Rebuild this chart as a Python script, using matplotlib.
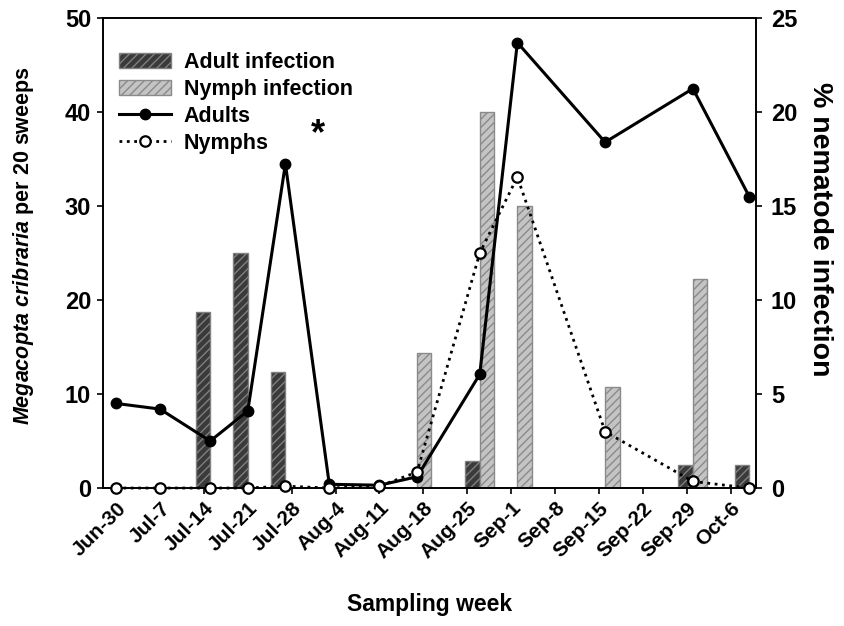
import matplotlib
matplotlib.use("Agg")
import matplotlib.pyplot as plt
from matplotlib.patches import Patch
from matplotlib.lines import Line2D

plt.rcParams['font.family'] = ['Liberation Sans', 'DejaVu Sans']
plt.rcParams['font.weight'] = 'bold'
plt.rcParams['mathtext.fontset'] = 'custom'
plt.rcParams['mathtext.rm'] = 'Liberation Sans:bold'
plt.rcParams['mathtext.it'] = 'Liberation Sans:italic:bold'
plt.rcParams['mathtext.bf'] = 'Liberation Sans:bold'
plt.rcParams['hatch.linewidth'] = 1.0

# ---- data ----
week_labels = ["Jun-30", "Jul-7", "Jul-14", "Jul-21", "Jul-28", "Aug-4", "Aug-11",
               "Aug-18", "Aug-25", "Sep-1", "Sep-8", "Sep-15", "Sep-22", "Sep-29", "Oct-6"]
week_days = [0, 7, 14, 21, 28, 35, 42, 49, 56, 63, 70, 77, 84, 91, 98]

# sampling dates, days after Jun-30
sample_days = [0, 7, 15, 21, 27, 34, 42, 48, 58, 64, 78, 92, 101]
adults = [9.0, 8.4, 5.0, 8.2, 34.5, 0.4, 0.3, 1.2, 12.1, 47.4, 36.8, 42.5, 31.0]
nymphs = [0.0, 0.0, 0.0, 0.0, 0.2, 0.0, 0.2, 1.7, 25.0, 33.1, 6.0, 0.7, 0.0]
adult_infection = [0, 0, 9.35, 12.5, 6.2, 0, 0, 0, 1.45, 0, 0, 1.25, 1.25]
nymph_infection = [0, 0, 0, 0, 0, 0, 0, 7.2, 20.0, 15.0, 5.4, 11.1, 0]

fig = plt.figure(figsize=(8.44, 6.26), dpi=100)
ax = fig.add_axes([0.122, 0.2204, 0.774, 0.7506])
ax2 = ax.twinx()

bar_w = 2.3
ax2.bar(sample_days, adult_infection, width=-bar_w, align='edge',
        color='#3a3a3a', edgecolor='#808080', hatch='////', linewidth=1.0)
ax2.bar(sample_days, nymph_infection, width=bar_w, align='edge',
        color='#c4c4c4', edgecolor='#8a8a8a', hatch='////', linewidth=1.0)

# put lines above bars
ax.set_zorder(ax2.get_zorder() + 1)
ax.patch.set_visible(False)

ax.plot(sample_days, adults, '-', color='black', lw=2.2, marker='o', ms=7.5,
        mfc='black', mec='black', clip_on=False, zorder=3)
ax.plot(sample_days, nymphs, ':', color='black', lw=2.0, marker='o', ms=7.5,
        mfc='white', mec='black', mew=1.6, clip_on=False, zorder=4)

ax.text(32.2, 37.6, '*', fontsize=26, fontweight='bold', ha='center', va='center')

ax.set_xlim(-2.1, 102.1)
ax.set_ylim(0, 50)
ax2.set_ylim(0, 25)
ax.set_yticks([0, 10, 20, 30, 40, 50])
ax2.set_yticks([0, 5, 10, 15, 20, 25])
ax.set_xticks(week_days)
ax.set_xticklabels(week_labels, rotation=45, ha='right', rotation_mode='anchor')

for a in (ax, ax2):
    a.tick_params(axis='both', direction='out', length=4.5, width=1.2, labelsize=17)
    for s in a.spines.values():
        s.set_linewidth(1.2)
ax.tick_params(axis='x', labelsize=15, pad=3)
ax.tick_params(axis='y', pad=4)
ax2.tick_params(axis='y', pad=6)

ax.set_ylabel(r'$\mathit{Megacopta\ cribraria}$ per 20 sweeps', fontsize=15.5,
              fontweight='bold')
ax.yaxis.set_label_coords(-0.103, 0.515)
ax2.set_ylabel('% nematode infection', fontsize=20.5, fontweight='bold',
               rotation=270, va='center')
ax2.yaxis.set_label_coords(1.097, 0.55)
ax.set_xlabel('Sampling week', fontsize=16.5, fontweight='bold', labelpad=22)

handles = [
    Patch(facecolor='#3a3a3a', edgecolor='#808080', hatch='////', label='Adult infection'),
    Patch(facecolor='#c4c4c4', edgecolor='#8a8a8a', hatch='////', label='Nymph infection'),
    Line2D([], [], color='black', lw=2.2, marker='o', ms=7.5, mfc='black', label='Adults'),
    Line2D([], [], color='black', lw=2.0, ls=':', marker='o', ms=7.5, mfc='white',
           mec='black', mew=1.6, label='Nymphs'),
]
leg = ax.legend(handles=handles, loc='upper left', bbox_to_anchor=(0.005, 0.955),
                frameon=False, fontsize=15.5, handlelength=2.4, handleheight=0.7,
                labelspacing=0.27, handletextpad=0.6, borderaxespad=0.2)
for t in leg.get_texts():
    t.set_fontweight('bold')

fig.savefig('out.png', dpi=100)
